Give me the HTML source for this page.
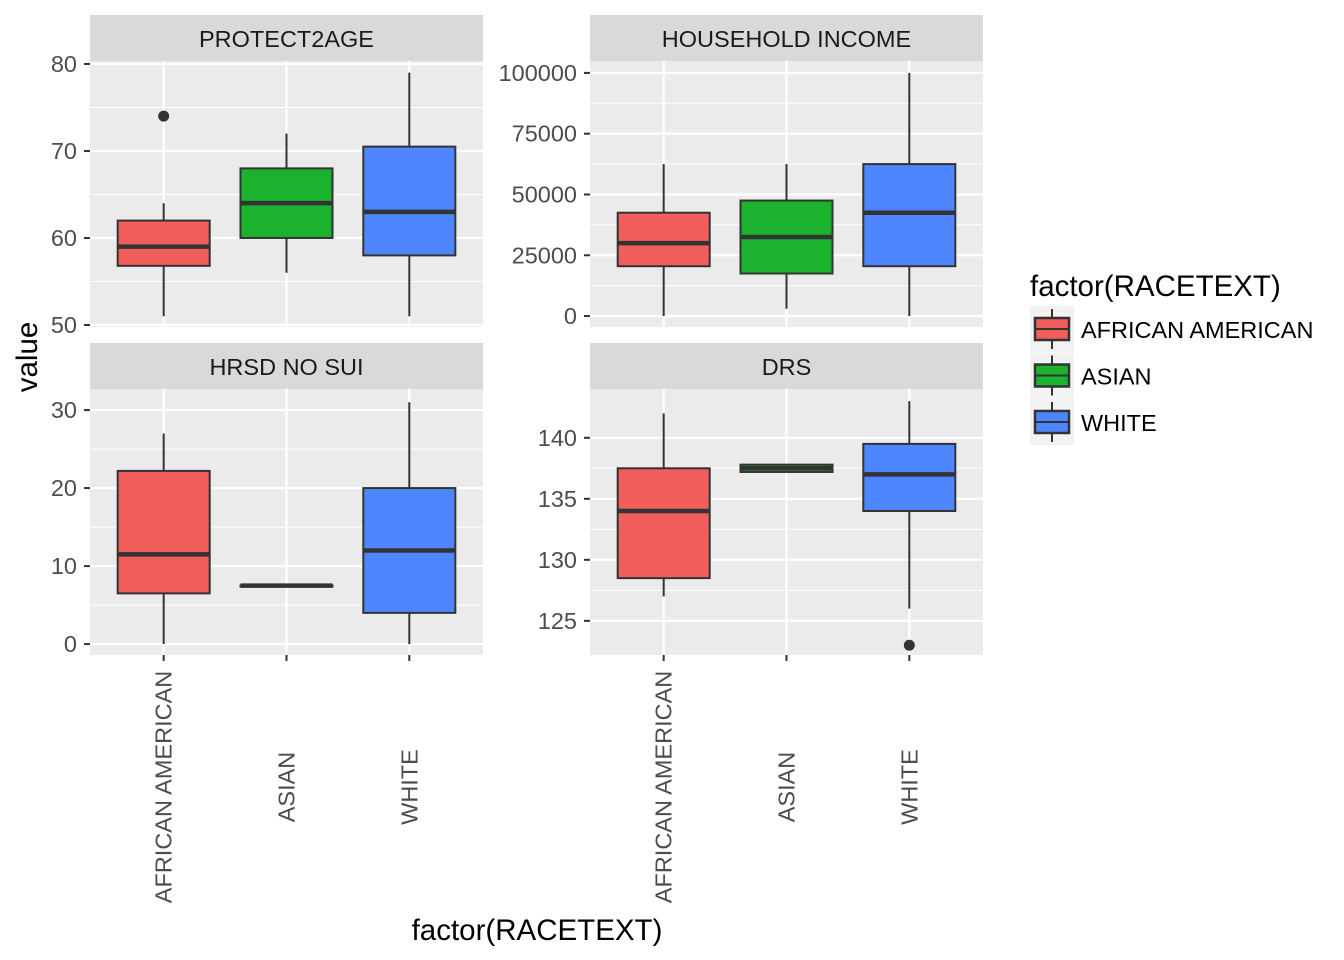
<!DOCTYPE html>
<html><head><meta charset="utf-8"><style>
html,body{margin:0;padding:0;background:#fff;}
svg{display:block;font-family:"Liberation Sans",Arial,sans-serif;}
</style></head><body>
<svg id="chart" width="1344" height="960"></svg>
<script>
const categories = ["AFRICAN AMERICAN","ASIAN","WHITE"];
const colors = ["#F25E5B","#1BB22E","#4E86FF"];
const panelTitles = ["PROTECT2AGE","HOUSEHOLD INCOME","HRSD NO SUI","DRS"];
// [whiskerLow, q1, median, q3, whiskerHigh] per category
const protectStats = [[51,56.8,59,62,64],[56,60,64,68,72],[51,58,63,70.5,79]];
const incomeStats = [[0,20500,30000,42500,62500],[3000,17500,32500,47500,62500],[0,20500,42500,62500,100000]];
const hrsdStats = [[0,6.5,11.5,22.2,27],[7.5,7.5,7.5,7.5,7.5],[0,4,12,20,31]];
const drsStats = [[127,128.5,134,137.5,142],[137.2,137.2,137.5,137.8,137.8],[126,134,137,139.5,143]];
const protectOutliers = [[0,74]];
const incomeOutliers = [];
const hrsdOutliers = [];
const drsOutliers = [[2,123]];
const protectTicks = [50,60,70,80];
const incomeTicks = [0,25000,50000,75000,100000];
const hrsdTicks = [0,10,20,30];
const drsTicks = [125,130,135,140];
const protectRange = [49.77,80.34];
const incomeRange = [-4500,104900];
const hrsdRange = [-1.4,32.7];
const drsRange = [122.2,144.0];

const NS="http://www.w3.org/2000/svg";
const svg=document.getElementById('chart');
function mk(tag,attrs,parent){const e=document.createElementNS(NS,tag);for(const k in attrs)e.setAttribute(k,attrs[k]);(parent||svg).appendChild(e);return e;}

const panels=[
 {x0:90,x1:483,y0:61,y1:327,stats:protectStats,out:protectOutliers,ticks:protectTicks,range:protectRange,xlab:false},
 {x0:590,x1:983,y0:61,y1:327,stats:incomeStats,out:incomeOutliers,ticks:incomeTicks,range:incomeRange,xlab:false},
 {x0:90,x1:483,y0:389,y1:655,stats:hrsdStats,out:hrsdOutliers,ticks:hrsdTicks,range:hrsdRange,xlab:true},
 {x0:590,x1:983,y0:389,y1:655,stats:drsStats,out:drsOutliers,ticks:drsTicks,range:drsRange,xlab:true}
];
panels.forEach((p,pi)=>{
 const g=mk('g',{});
 
 
 const W=p.x1-p.x0;
 const step=W/(categories.length-1+1.2);
 const xs=i=>p.x0+step*(0.6+i);
 const ys=v=>p.y1-(v-p.range[0])/(p.range[1]-p.range[0])*(p.y1-p.y0);
 const bg=mk('rect',{x:p.x0,y:p.y0,width:W,height:p.y1-p.y0,fill:'#EBEBEB'},g);
 
 
 const strip=mk('rect',{x:p.x0,y:p.y0-46,width:W,height:46,fill:'#D9D9D9'},g);
 
 
 const st=mk('text',{x:(p.x0+p.x1)/2,y:p.y0-14,'text-anchor':'middle','font-size':'23.5',fill:'#1A1A1A'},g);
 st.textContent=panelTitles[pi];
 
 
 for(let i=0;i<p.ticks.length-1;i++){const m=(p.ticks[i]+p.ticks[i+1])/2;mk('line',{x1:p.x0,x2:p.x1,y1:ys(m),y2:ys(m),stroke:'#fff','stroke-width':1},g);}
 p.ticks.forEach(t=>{
  const y=ys(t);
  mk('line',{x1:p.x0,x2:p.x1,y1:y,y2:y,stroke:'#fff','stroke-width':2.2},g);
  mk('line',{x1:p.x0-6,x2:p.x0,y1:y,y2:y,stroke:'#333','stroke-width':2},g);
  const tl=mk('text',{x:p.x0-13,y:y+8,'text-anchor':'end','font-size':'23.5',fill:'#4D4D4D'},g);
  tl.textContent=String(t);
  
  
 });
 categories.forEach((c,i)=>{
  const x=xs(i);
  mk('line',{x1:x,x2:x,y1:p.y0,y2:p.y1,stroke:'#fff','stroke-width':2.2},g);
  const s=p.stats[i], bw=92;
  mk('line',{x1:x,x2:x,y1:ys(s[0]),y2:ys(s[1]),stroke:'#333','stroke-width':2},g);
  mk('line',{x1:x,x2:x,y1:ys(s[3]),y2:ys(s[4]),stroke:'#333','stroke-width':2},g);
  const h=Math.max(ys(s[1])-ys(s[3]),1);
  const b=mk('rect',{x:x-bw/2,y:ys(s[3]),width:bw,height:h,fill:colors[i],stroke:'#333','stroke-width':2},g);
  
  
  mk('line',{x1:x-bw/2,x2:x+bw/2,y1:ys(s[2]),y2:ys(s[2]),stroke:'#333','stroke-width':4.5},g);
  if(p.xlab){
   mk('line',{x1:x,x2:x,y1:p.y1,y2:p.y1+6,stroke:'#333','stroke-width':2},g);
   const xl=mk('text',{x:0,y:0,'text-anchor':'middle','font-size':'23.5',fill:'#4D4D4D',transform:`translate(${x+8},787) rotate(-90)`},g);
   xl.textContent=c;
   
   
  }
 });
 p.out.forEach(o=>{
  const pt=mk('circle',{cx:xs(o[0]),cy:ys(o[1]),r:5.5,fill:'#333'},g);
  
  
 });
});
const yt=mk('text',{x:0,y:0,'text-anchor':'middle','font-size':'29.5',fill:'#000',transform:'translate(37,357) rotate(-90)'});
yt.textContent='value';


const xt=mk('text',{x:537,y:940,'text-anchor':'middle','font-size':'29.5',fill:'#000'});
xt.textContent='factor(RACETEXT)';


const lt=mk('text',{x:1030,y:296,'font-size':'29.5',fill:'#000'});
lt.textContent='factor(RACETEXT)';


categories.forEach((c,i)=>{
 const g=mk('g',{});
 
 
 const y=306+i*46.5;
 mk('rect',{x:1030,y:y,width:44,height:46,fill:'#F2F2F2'},g);
 mk('line',{x1:1052,x2:1052,y1:y+3,y2:y+43,stroke:'#333','stroke-width':2},g);
 mk('rect',{x:1035,y:y+12,width:34,height:22,fill:colors[i],stroke:'#333','stroke-width':2.5},g);
 mk('line',{x1:1035,x2:1069,y1:y+23,y2:y+23,stroke:'#333','stroke-width':2},g);
 const t=mk('text',{x:1081,y:y+32,'font-size':'23.5',fill:'#000'},g);
 t.textContent=c;
});
</script>
</body></html>
